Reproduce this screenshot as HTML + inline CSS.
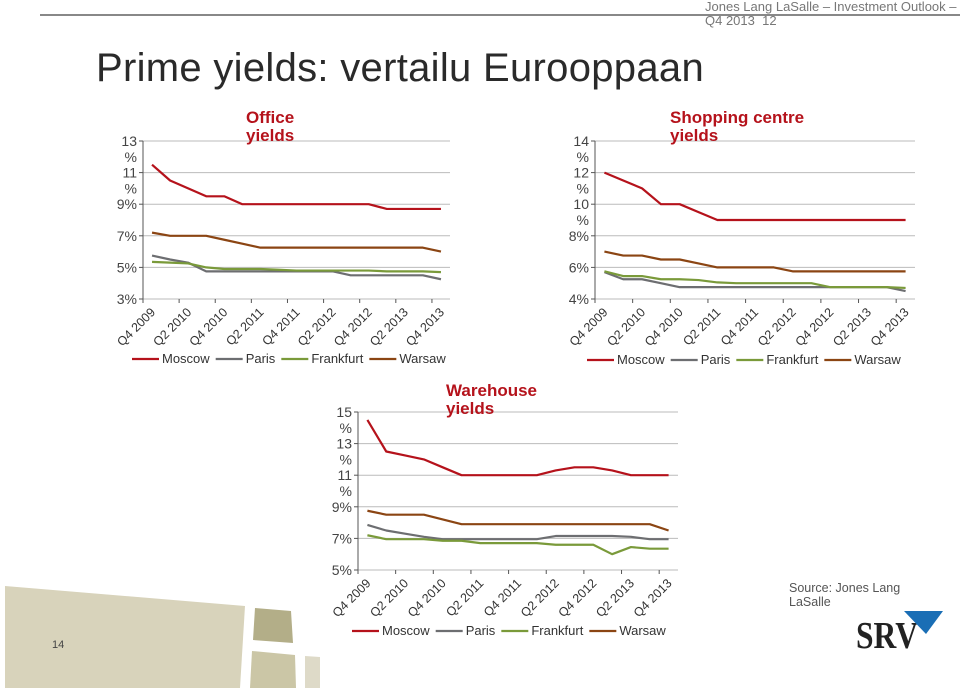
<!DOCTYPE html>
<html><head><meta charset="utf-8"><style>
body{margin:0;width:960px;height:688px;overflow:hidden;background:#fff;font-family:"Liberation Sans",sans-serif;position:relative}
.abs{position:absolute}
</style></head><body>
<div class="abs" style="left:40px;top:14px;width:920px;height:2px;background:#888"></div>
<div class="abs" style="left:705px;top:0px;font-size:13px;line-height:14px;color:#777">Jones Lang LaSalle – Investment Outlook –<br>Q4 2013 &nbsp;12</div>
<div class="abs" style="left:96px;top:46px;font-size:40px;color:#2a2a2a;letter-spacing:0.3px">Prime yields: vertailu Eurooppaan</div>
<svg class="abs" style="left:0;top:0" width="960" height="688" id="deco">
<polygon points="5,586 245,606 240,688 5,688" fill="#d8d3bb"/>
<polygon points="255,608 291,611 293,643 253,640" fill="#b3ae88"/>
<polygon points="252,651 295,655 296,688 250,688" fill="#cbc6a6"/>
<polygon points="305,656 320,657 320,688 305,688" fill="#dedac8"/>
<text x="52" y="648" font-size="11" fill="#444" font-family="Liberation Sans">14</text>
<text x="789" y="592" font-size="12.5" fill="#555" font-family="Liberation Sans">Source: Jones Lang</text>
<text x="789" y="606" font-size="12.5" fill="#555" font-family="Liberation Sans">LaSalle</text>
<text x="856" y="648" font-size="38" font-weight="bold" fill="#222" font-family="Liberation Serif" textLength="62" lengthAdjust="spacingAndGlyphs">SRV</text>
<polygon points="904,611 943,611 926,634" fill="#1a6eb5"/>
</svg>
<svg class="abs" style="left:0;top:0" width="960" height="688" id="charts"></svg>
<script>
const categories=["Q4 2009","Q1 2010","Q2 2010","Q3 2010","Q4 2010","Q1 2011","Q2 2011","Q3 2011","Q4 2011","Q1 2012","Q2 2012","Q3 2012","Q4 2012","Q1 2013","Q2 2013","Q3 2013","Q4 2013"];
const seriesNames=["Moscow","Paris","Frankfurt","Warsaw"];
const officeMoscow=[11.5,10.5,10,9.5,9.5,9,9,9,9,9,9,9,9,8.7,8.7,8.7,8.7];
const officeParis=[5.75,5.5,5.3,4.75,4.75,4.75,4.75,4.75,4.75,4.75,4.75,4.5,4.5,4.5,4.5,4.5,4.25];
const officeFrankfurt=[5.35,5.3,5.25,5.0,4.9,4.9,4.9,4.85,4.8,4.8,4.8,4.8,4.8,4.75,4.75,4.75,4.7];
const officeWarsaw=[7.2,7.0,7.0,7.0,6.75,6.5,6.25,6.25,6.25,6.25,6.25,6.25,6.25,6.25,6.25,6.25,6.0];
const officeTicks=["3%","5%","7%","9%","11\n%","13\n%"];
const shopMoscow=[12,11.5,11,10,10,9.5,9,9,9,9,9,9,9,9,9,9,9];
const shopParis=[5.7,5.25,5.25,5.0,4.75,4.75,4.75,4.75,4.75,4.75,4.75,4.75,4.75,4.75,4.75,4.75,4.5];
const shopFrankfurt=[5.75,5.45,5.45,5.25,5.25,5.2,5.05,5.0,5.0,5.0,5.0,5.0,4.75,4.75,4.75,4.75,4.7];
const shopWarsaw=[7,6.75,6.75,6.5,6.5,6.25,6,6,6,6,5.75,5.75,5.75,5.75,5.75,5.75,5.75];
const shopTicks=["4%","6%","8%","10\n%","12\n%","14\n%"];
const whMoscow=[14.5,12.5,12.25,12,11.5,11,11,11,11,11,11.3,11.5,11.5,11.3,11,11,11];
const whParis=[7.85,7.5,7.3,7.1,6.95,6.95,6.95,6.95,6.95,6.95,7.15,7.15,7.15,7.15,7.1,6.95,6.95];
const whFrankfurt=[7.2,6.95,6.95,6.95,6.85,6.85,6.7,6.7,6.7,6.7,6.6,6.6,6.6,6.0,6.45,6.35,6.35];
const whWarsaw=[8.75,8.5,8.5,8.5,8.2,7.9,7.9,7.9,7.9,7.9,7.9,7.9,7.9,7.9,7.9,7.9,7.5];
const whTicks=["5%","7%","9%","11\n%","13\n%","15\n%"];

const colors=["#b5121b","#6d6e71","#7a9a3a","#8b4513"];
const NS="http://www.w3.org/2000/svg";
const svg=document.getElementById("charts");
function mk(tag,attrs,parent){const e=document.createElementNS(NS,tag);for(const k in attrs)e.setAttribute(k,attrs[k]);(parent||svg).appendChild(e);return e;}

function drawChart(cfg){
  const g=mk("g",{});
  
  
  const x0=cfg.x0,x1=cfg.x1,yTop=cfg.yTop,yBot=cfg.yBot,vmin=cfg.vmin,vmax=cfg.vmax;
  const n=categories.length,step=(x1-x0)/n;
  const xs=i=>x0+step*(i+0.5);
  const ys=v=>yBot-(v-vmin)/(vmax-vmin)*(yBot-yTop);
  const nt=cfg.ticks.length;
  cfg.ticks.forEach((t,k)=>{
    const v=vmin+(vmax-vmin)*k/(nt-1),y=ys(v);
    const gl=mk("line",{x1:x0,x2:x1,y1:y,y2:y,stroke:"#bbb","stroke-width":1},g);
    
    
    const parts=t.split("\n");
    const tx=mk("text",{x:x0-6,y:y+5,"text-anchor":"end","font-size":14,fill:"#444"},g);
    
    
    parts.forEach((p,j)=>{const ts=mk("tspan",{x:x0-6,dy:j?16:0},tx);ts.textContent=p;});
    mk("line",{x1:x0-4,x2:x0,y1:y,y2:y,stroke:"#555"},g);
  });
  const ax=mk("line",{x1:x0,x2:x0,y1:yTop,y2:yBot,stroke:"#555"},g);
  
  
  for(let i=0;i<=n;i+=2){mk("line",{x1:x0+step*i,x2:x0+step*i,y1:yBot,y2:yBot+4,stroke:"#555"},g);}
  categories.forEach((c,i)=>{
    if(i%2)return;
    const x=xs(i)+4,y=yBot+14;
    const t=mk("text",{x:x,y:y,"text-anchor":"end","font-size":12.5,fill:"#333",transform:`rotate(-45 ${x} ${y})`},g);
    
    
    t.textContent=c;
  });
  cfg.series.forEach((s,k)=>{
    const p=mk("polyline",{points:s.map((v,i)=>xs(i)+","+ys(v)).join(" "),fill:"none",stroke:colors[k],"stroke-width":2.2,"stroke-linejoin":"round"},g);
    
    
  });
  const tt=mk("text",{x:cfg.tx,y:cfg.ty,"font-size":17,"font-weight":"bold",fill:"#b5121b"},g);
  
  
  cfg.title.forEach((p,j)=>{const ts=mk("tspan",{x:cfg.tx,dy:j?18:0},tt);ts.textContent=p;});
  let lx=cfg.lx;
  seriesNames.forEach((nm,k)=>{
    const le=mk("g",{},g);
    
    
    mk("line",{x1:lx,x2:lx+27,y1:cfg.ly-4,y2:cfg.ly-4,stroke:colors[k],"stroke-width":2.2},le);
    const t=mk("text",{x:lx+30,y:cfg.ly,"font-size":13,fill:"#333"},le);
    t.textContent=nm;
    lx+=30+t.getComputedTextLength()+6;
  });
}
drawChart({name:"office-chart",x0:143,x1:450,yTop:141,yBot:299,vmin:3,vmax:13,ticks:officeTicks,series:[officeMoscow,officeParis,officeFrankfurt,officeWarsaw],title:["Office","yields"],tx:246,ty:123,lx:132,ly:363});
drawChart({name:"shopping-chart",x0:595,x1:915,yTop:141,yBot:299,vmin:4,vmax:14,ticks:shopTicks,series:[shopMoscow,shopParis,shopFrankfurt,shopWarsaw],title:["Shopping centre","yields"],tx:670,ty:123,lx:587,ly:364});
drawChart({name:"warehouse-chart",x0:358,x1:678,yTop:412,yBot:570,vmin:5,vmax:15,ticks:whTicks,series:[whMoscow,whParis,whFrankfurt,whWarsaw],title:["Warehouse","yields"],tx:446,ty:396,lx:352,ly:635});
</script>
</body></html>
